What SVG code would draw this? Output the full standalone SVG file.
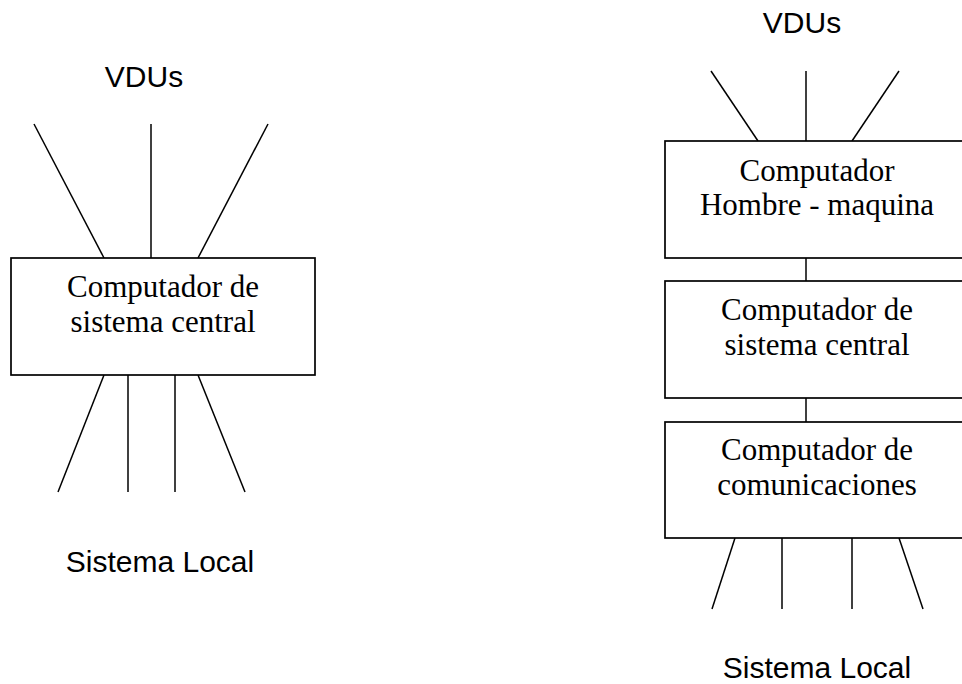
<svg xmlns="http://www.w3.org/2000/svg" width="962" height="684" viewBox="0 0 962 684">
  <style>
    .box { fill: #ffffff; stroke: #000000; stroke-width: 1.7; }
    .wire { stroke: #000000; stroke-width: 1.5; fill: none; }
    .lbl { font-family: "Liberation Serif", "Times New Roman", serif; font-size: 31px; fill: #000; text-anchor: middle; }
    .cap { font-family: "Liberation Sans", Arial, sans-serif; font-size: 30px; fill: #000; text-anchor: middle; }
  </style>
  <rect width="962" height="684" fill="#ffffff"/>

  <!-- Connectors -->
  <g id="connectors">
    <!-- Left: terminals to central computer -->
    <line class="wire" x1="34" y1="124" x2="104" y2="258"/>
    <line class="wire" x1="151" y1="124" x2="151" y2="258"/>
    <line class="wire" x1="268" y1="124" x2="198" y2="258"/>
    <!-- Left: central computer to local system -->
    <line class="wire" x1="104" y1="375" x2="58" y2="492"/>
    <line class="wire" x1="128" y1="375" x2="128" y2="492"/>
    <line class="wire" x1="175" y1="375" x2="175" y2="492"/>
    <line class="wire" x1="198" y1="375" x2="245" y2="492"/>
    <!-- Right: terminals to man-machine computer -->
    <line class="wire" x1="711" y1="71" x2="758" y2="141"/>
    <line class="wire" x1="806" y1="71" x2="806" y2="141"/>
    <line class="wire" x1="899" y1="71" x2="852" y2="141"/>
    <!-- Right: stack links -->
    <line class="wire" x1="806" y1="258" x2="806" y2="281"/>
    <line class="wire" x1="806" y1="398" x2="806" y2="422"/>
    <!-- Right: communications computer to local system -->
    <line class="wire" x1="735" y1="538" x2="712" y2="609"/>
    <line class="wire" x1="782" y1="538" x2="782" y2="609"/>
    <line class="wire" x1="852" y1="538" x2="852" y2="609"/>
    <line class="wire" x1="899" y1="538" x2="923" y2="609"/>
  </g>

  <!-- Left layout -->
  <g id="left-vdus"><text class="cap" x="144" y="87">VDUs</text></g>
  <g id="left-central">
    <rect class="box" x="11" y="258" width="304" height="117"/>
    <text class="lbl" x="163" y="297">Computador de</text>
    <text class="lbl" x="163" y="332">sistema central</text>
  </g>
  <g id="left-local"><text class="cap" x="160" y="572">Sistema Local</text></g>

  <!-- Right layout -->
  <g id="right-vdus"><text class="cap" x="802" y="33">VDUs</text></g>
  <g id="right-hm">
    <rect class="box" x="665" y="141" width="304" height="117"/>
    <text class="lbl" x="817" y="181">Computador</text>
    <text class="lbl" x="817" y="215">Hombre - maquina</text>
  </g>
  <g id="right-central">
    <rect class="box" x="665" y="281" width="304" height="117"/>
    <text class="lbl" x="817" y="320">Computador de</text>
    <text class="lbl" x="817" y="355">sistema central</text>
  </g>
  <g id="right-comm">
    <rect class="box" x="665" y="422" width="304" height="116"/>
    <text class="lbl" x="817" y="460">Computador de</text>
    <text class="lbl" x="817" y="495">comunicaciones</text>
  </g>
  <g id="right-local"><text class="cap" x="817" y="678">Sistema Local</text></g>
</svg>
